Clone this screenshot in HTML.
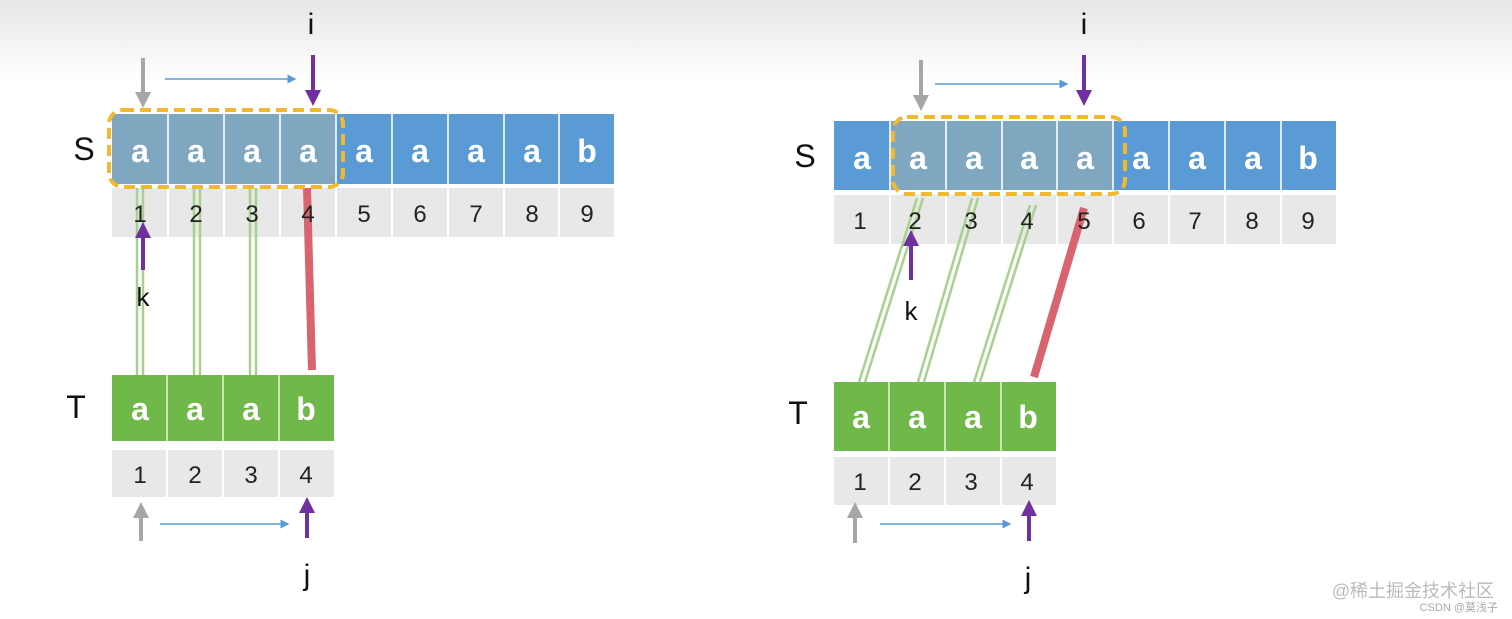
<!DOCTYPE html>
<html><head><meta charset="utf-8"><style>
html,body{margin:0;padding:0;background:#fff}
svg{display:block}
text{font-family:"Liberation Sans","DejaVu Sans",sans-serif}
</style></head><body>
<svg width="1512" height="619" viewBox="0 0 1512 619" xmlns="http://www.w3.org/2000/svg">
<defs>
<linearGradient id="bg" x1="0" y1="0" x2="0" y2="1">
<stop offset="0" stop-color="#e6e6e6"/><stop offset="1" stop-color="#ffffff"/>
</linearGradient>
<marker id="ag" markerWidth="4" markerHeight="4" refX="2" refY="2" orient="auto" markerUnits="strokeWidth"><path d="M0,0 L4,2 L0,4 z" fill="#a6a6a6"/></marker>
<marker id="ap" markerWidth="4" markerHeight="4" refX="2" refY="2" orient="auto" markerUnits="strokeWidth"><path d="M0,0 L4,2 L0,4 z" fill="#7030a0"/></marker>
<marker id="ab" markerWidth="6" markerHeight="6" refX="3" refY="3" orient="auto" markerUnits="strokeWidth"><path d="M0,0 L6,3 L0,6 z" fill="#5b9bd5"/></marker>
</defs>
<rect width="1512" height="80" fill="url(#bg)"/>

<!-- LEFT -->
<g font-size="32" font-weight="bold" fill="#fff" text-anchor="middle">
<rect x="112" y="114" width="502" height="70" fill="#5b9bd5"/>
<rect x="112" y="114" width="224" height="70" fill="#7fa7c0"/>
<g stroke="#fff" stroke-width="2" opacity="0.8">
<line x1="168" y1="114" x2="168" y2="184"/><line x1="224" y1="114" x2="224" y2="184"/><line x1="280" y1="114" x2="280" y2="184"/><line x1="336" y1="114" x2="336" y2="184"/><line x1="392" y1="114" x2="392" y2="184"/><line x1="448" y1="114" x2="448" y2="184"/><line x1="504" y1="114" x2="504" y2="184"/><line x1="559" y1="114" x2="559" y2="184"/>
</g>
<text x="140" y="162">a</text><text x="196" y="162">a</text><text x="252" y="162">a</text><text x="308" y="162">a</text><text x="364" y="162">a</text><text x="420" y="162">a</text><text x="476" y="162">a</text><text x="532" y="162">a</text><text x="587" y="162">b</text>
</g>
<rect x="112" y="188" width="502" height="49" fill="#e8e8e8"/>
<g stroke="#fff" stroke-width="2">
<line x1="168" y1="188" x2="168" y2="237"/><line x1="224" y1="188" x2="224" y2="237"/><line x1="280" y1="188" x2="280" y2="237"/><line x1="336" y1="188" x2="336" y2="237"/><line x1="392" y1="188" x2="392" y2="237"/><line x1="448" y1="188" x2="448" y2="237"/><line x1="504" y1="188" x2="504" y2="237"/><line x1="559" y1="188" x2="559" y2="237"/>
</g>
<text x="84" y="160" font-size="32" text-anchor="middle" fill="#111">S</text>

<rect x="112" y="375" width="222" height="66" fill="#70b84a"/>
<g stroke="#c9e8b4" stroke-width="2"><line x1="167" y1="375" x2="167" y2="441"/><line x1="223" y1="375" x2="223" y2="441"/><line x1="279" y1="375" x2="279" y2="441"/></g>
<g font-size="32" font-weight="bold" fill="#fff" text-anchor="middle">
<text x="140" y="420">a</text><text x="195" y="420">a</text><text x="251" y="420">a</text><text x="306" y="420">b</text></g>
<rect x="112" y="450" width="222" height="47" fill="#e8e8e8"/>
<g stroke="#fff" stroke-width="2"><line x1="167" y1="450" x2="167" y2="497"/><line x1="223" y1="450" x2="223" y2="497"/><line x1="279" y1="450" x2="279" y2="497"/></g>
<g font-size="24" fill="#222" text-anchor="middle"><text x="140" y="483">1</text><text x="195" y="483">2</text><text x="251" y="483">3</text><text x="306" y="483">4</text></g>
<text x="76" y="418" font-size="32" text-anchor="middle" fill="#111">T</text>

<g stroke="#a9d18e" stroke-width="2.5">
<line x1="137" y1="188" x2="137" y2="375"/><line x1="143" y1="188" x2="143" y2="375"/>
<line x1="194" y1="188" x2="194" y2="375"/><line x1="200" y1="188" x2="200" y2="375"/>
<line x1="250" y1="188" x2="250" y2="375"/><line x1="256" y1="188" x2="256" y2="375"/>
</g>
<line x1="307" y1="188" x2="312" y2="370" stroke="#d8646e" stroke-width="8"/>
<g font-size="24" fill="#222" text-anchor="middle">
<text x="140" y="222">1</text><text x="196" y="222">2</text><text x="252" y="222">3</text><text x="308" y="222">4</text><text x="364" y="222">5</text><text x="420" y="222">6</text><text x="476" y="222">7</text><text x="532" y="222">8</text><text x="587" y="222">9</text>
</g>
<rect x="109" y="110" width="234" height="77" rx="14" fill="none" stroke="#f0b92e" stroke-width="4" stroke-dasharray="11,6"/>

<line x1="143" y1="58" x2="143" y2="100" stroke="#a6a6a6" stroke-width="4" marker-end="url(#ag)"/>
<line x1="165" y1="79" x2="292" y2="79" stroke="#5b9bd5" stroke-width="1.5" marker-end="url(#ab)"/>
<line x1="313" y1="55" x2="313" y2="98" stroke="#7030a0" stroke-width="4" marker-end="url(#ap)"/>
<text x="311" y="34" font-size="30" text-anchor="middle" fill="#111">i</text>
<line x1="143" y1="270" x2="143" y2="230" stroke="#7030a0" stroke-width="4" marker-end="url(#ap)"/>
<text x="143" y="306" font-size="26" text-anchor="middle" fill="#111">k</text>
<line x1="141" y1="541" x2="141" y2="510" stroke="#a6a6a6" stroke-width="4" marker-end="url(#ag)"/>
<line x1="160" y1="524" x2="285" y2="524" stroke="#5b9bd5" stroke-width="1.5" marker-end="url(#ab)"/>
<line x1="307" y1="538" x2="307" y2="505" stroke="#7030a0" stroke-width="4" marker-end="url(#ap)"/>
<text x="307" y="585" font-size="30" text-anchor="middle" fill="#111">j</text>

<!-- RIGHT -->
<g font-size="32" font-weight="bold" fill="#fff" text-anchor="middle">
<rect x="834" y="121" width="502" height="69" fill="#5b9bd5"/>
<rect x="890" y="121" width="223" height="69" fill="#7fa7c0"/>
<g stroke="#fff" stroke-width="2" opacity="0.8">
<line x1="890" y1="121" x2="890" y2="190"/><line x1="946" y1="121" x2="946" y2="190"/><line x1="1002" y1="121" x2="1002" y2="190"/><line x1="1057" y1="121" x2="1057" y2="190"/><line x1="1113" y1="121" x2="1113" y2="190"/><line x1="1169" y1="121" x2="1169" y2="190"/><line x1="1225" y1="121" x2="1225" y2="190"/><line x1="1281" y1="121" x2="1281" y2="190"/>
</g>
<text x="862" y="169">a</text><text x="918" y="169">a</text><text x="974" y="169">a</text><text x="1029" y="169">a</text><text x="1085" y="169">a</text><text x="1141" y="169">a</text><text x="1197" y="169">a</text><text x="1253" y="169">a</text><text x="1308" y="169">b</text>
</g>
<rect x="834" y="195" width="502" height="49" fill="#e8e8e8"/>
<g stroke="#fff" stroke-width="2">
<line x1="890" y1="195" x2="890" y2="244"/><line x1="946" y1="195" x2="946" y2="244"/><line x1="1002" y1="195" x2="1002" y2="244"/><line x1="1057" y1="195" x2="1057" y2="244"/><line x1="1113" y1="195" x2="1113" y2="244"/><line x1="1169" y1="195" x2="1169" y2="244"/><line x1="1225" y1="195" x2="1225" y2="244"/><line x1="1281" y1="195" x2="1281" y2="244"/>
</g>
<text x="805" y="167" font-size="32" text-anchor="middle" fill="#111">S</text>

<rect x="834" y="382" width="222" height="69" fill="#70b84a"/>
<g stroke="#c9e8b4" stroke-width="2"><line x1="889" y1="382" x2="889" y2="451"/><line x1="945" y1="382" x2="945" y2="451"/><line x1="1001" y1="382" x2="1001" y2="451"/></g>
<g font-size="32" font-weight="bold" fill="#fff" text-anchor="middle">
<text x="861" y="428">a</text><text x="917" y="428">a</text><text x="973" y="428">a</text><text x="1028" y="428">b</text></g>
<rect x="834" y="457" width="222" height="48" fill="#e8e8e8"/>
<g stroke="#fff" stroke-width="2"><line x1="889" y1="457" x2="889" y2="505"/><line x1="945" y1="457" x2="945" y2="505"/><line x1="1001" y1="457" x2="1001" y2="505"/></g>
<g font-size="24" fill="#222" text-anchor="middle"><text x="860" y="490">1</text><text x="915" y="490">2</text><text x="971" y="490">3</text><text x="1027" y="490">4</text></g>
<text x="798" y="424" font-size="32" text-anchor="middle" fill="#111">T</text>

<g stroke="#a9d18e" stroke-width="2.5">
<line x1="859" y1="382" x2="917" y2="198"/><line x1="865" y1="382" x2="923" y2="198"/>
<line x1="918" y1="382" x2="972" y2="198"/><line x1="924" y1="382" x2="978" y2="198"/>
<line x1="974" y1="382" x2="1030" y2="205"/><line x1="980" y1="382" x2="1036" y2="205"/>
</g>
<line x1="1034" y1="377" x2="1084" y2="208" stroke="#d8646e" stroke-width="8"/>
<g font-size="24" fill="#222" text-anchor="middle">
<text x="860" y="229">1</text><text x="915" y="229">2</text><text x="971" y="229">3</text><text x="1027" y="229">4</text><text x="1084" y="229">5</text><text x="1139" y="229">6</text><text x="1195" y="229">7</text><text x="1252" y="229">8</text><text x="1308" y="229">9</text>
</g>
<rect x="893" y="117" width="232" height="77" rx="14" fill="none" stroke="#f0b92e" stroke-width="4" stroke-dasharray="11,6"/>

<line x1="921" y1="60" x2="921" y2="103" stroke="#a6a6a6" stroke-width="4" marker-end="url(#ag)"/>
<line x1="935" y1="84" x2="1064" y2="84" stroke="#5b9bd5" stroke-width="1.5" marker-end="url(#ab)"/>
<line x1="1084" y1="55" x2="1084" y2="98" stroke="#7030a0" stroke-width="4" marker-end="url(#ap)"/>
<text x="1084" y="34" font-size="30" text-anchor="middle" fill="#111">i</text>
<line x1="911" y1="280" x2="911" y2="238" stroke="#7030a0" stroke-width="4" marker-end="url(#ap)"/>
<text x="911" y="320" font-size="26" text-anchor="middle" fill="#111">k</text>
<line x1="855" y1="543" x2="855" y2="510" stroke="#a6a6a6" stroke-width="4" marker-end="url(#ag)"/>
<line x1="880" y1="524" x2="1007" y2="524" stroke="#5b9bd5" stroke-width="1.5" marker-end="url(#ab)"/>
<line x1="1029" y1="541" x2="1029" y2="508" stroke="#7030a0" stroke-width="4" marker-end="url(#ap)"/>
<text x="1028" y="588" font-size="30" text-anchor="middle" fill="#111">j</text>

<text x="1494" y="597" font-size="18" text-anchor="end" fill="#bbb" font-family="'Liberation Sans','Noto Sans CJK SC',sans-serif">@稀土掘金技术社区</text>
<text x="1498" y="611" font-size="11" text-anchor="end" fill="#aaa" font-family="'Liberation Sans','Noto Sans CJK SC',sans-serif">CSDN @莫浅子</text>
</svg>
</body></html>
